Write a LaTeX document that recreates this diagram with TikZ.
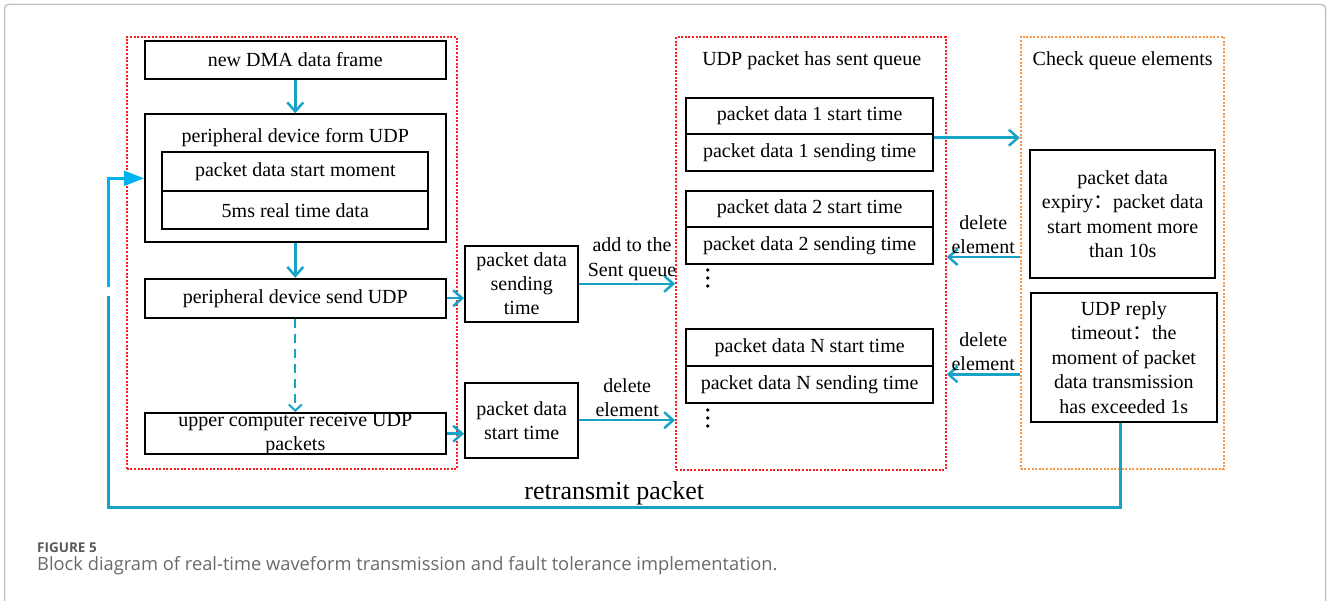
\documentclass[tikz,border=0pt]{standalone}
\usepackage{fontspec}
\setmainfont{Liberation Serif}
\newfontfamily\capfont{Open Sans}
\newfontfamily\cjk{Noto Sans CJK SC}
\usetikzlibrary{arrows.meta,positioning,calc}
\definecolor{flow}{RGB}{23,163,200}
\definecolor{flowlt}{RGB}{0,178,240}
\definecolor{qred}{RGB}{250,30,30}
\definecolor{qorange}{RGB}{247,150,70}
\definecolor{framegray}{RGB}{195,195,195}
\definecolor{capgray}{RGB}{105,105,105}
\newcommand{\fc}{{\cjk ：}}

\begin{document}
\begin{tikzpicture}[x=1pt,y=-1pt,
	txt/.style={inner sep=0pt,align=center,font=\fontsize{20}{24.5}\selectfont},
	box/.style={txt,draw,line width=2pt},
	wbox/.style={box,minimum width=300.7pt,minimum height=38.8pt},
	pbox/.style={box,minimum width=247.3pt,minimum height=36.7pt},
	grp/.style={draw,line width=2pt,dash pattern=on 2pt off 1.6pt,minimum height=432.5pt},
	lbl/.style={txt,above,inner sep=2pt},
	flowarr/.style={draw=flow,line width=2.5pt,-{Straight Barb[length=9pt,width=16pt]}}]
	\useasboundingbox (0,0) rectangle (1328,601);
	\draw[framegray,line width=1.5pt,rounded corners=4pt] (4.5,601) -- (4.5,4.5) -- (1325.5,4.5) -- (1325.5,601);

	% device side
	\node[grp,draw=qred,minimum width=330pt] (devgrp) at (291.7,253) {};
	\node[wbox] (dma) at (295.3,60) {new DMA data frame};
	\node[box,minimum width=300.7pt,minimum height=128pt] (form) at (295.3,178.3) {};
	\node[txt] (formt) at (295.3,138) {peripheral device form UDP};
	\node[box,minimum width=266pt,minimum height=39pt] (startm) at (295.3,171.5) {packet data start moment};
	\node[box,minimum width=266pt,minimum height=38.3pt] (rtd) at (295.3,210.2) {5ms real time data};
	\node[wbox] (send) at (295.3,298.2) {peripheral device send UDP};
	\node[wbox,font=\fontsize{20}{24}\selectfont] (recv) at (295.3,433.7) {upper computer receive UDP\\packets};
	\node[box,minimum width=113.3pt,minimum height=75.7pt,font=\fontsize{20}{24}\selectfont] (sendt) at (521.7,283.8) {packet data\\sending\\time};
	\node[box,minimum width=113.3pt,minimum height=75pt,font=\fontsize{20}{24}\selectfont] (startt) at (521.7,420.2) {packet data\\start time};

	% sent queue
	\node[grp,draw=qred,minimum width=269.7pt] (queue) at (810.9,253.3) {};
	\node[txt] (queuet) at (811.7,60.5) {UDP packet has sent queue};
	\node[pbox] (p1s) at (809.7,116) {packet data 1 start time};
	\node[pbox] (p1t) at (809.7,152.7) {packet data 1 sending time};
	\node[pbox] (p2s) at (809.7,209) {packet data 2 start time};
	\node[pbox] (p2t) at (809.7,245.7) {packet data 2 sending time};
	\node[pbox] (pNs) at (809.7,347.7) {packet data N start time};
	\node[pbox] (pNt) at (809.7,384.3) {packet data N sending time};
	\foreach \y in {270,278,286,410,418,426}
		\fill (707.7,\y) circle (1.9);

	% checking
	\node[grp,draw=qorange,minimum width=203.3pt] (check) at (1122.4,253) {};
	\node[txt] (checkt) at (1122.7,60.5) {Check queue elements};
	\node[box,minimum width=185.3pt,minimum height=128.3pt] (expiry) at (1122.7,214.2) {packet data\\expiry\fc packet data\\start moment more\\than 10s};
	\node[box,minimum width=185.7pt,minimum height=129pt] (timeout) at (1123.8,357.2) {UDP reply\\timeout\fc the\\moment of packet\\data transmission\\has exceeded 1s};

	\draw[flowarr] (dma) -- (form);
	\draw[flowarr] (form) -- (send);
	\draw[flowarr,line width=2pt,dash pattern=on 9pt off 6pt,-{Straight Barb[length=6pt,width=13pt]}] (send) -- (recv);
	\draw[flowarr] (send.east) -- (send.east -| sendt.west);
	\draw[flowarr] (recv.east) -- (recv.east -| startt.west);
	\draw[flowarr] (sendt.east) -- node[lbl,pos=0.55] {add to the\\Sent queue} (sendt.east -| queue.west);
	\draw[flowarr] (startt.east) -- node[lbl,pos=0.5] {delete\\element} (startt.east -| queue.west);
	\draw[flowarr] ($(p1s.south east)+(0,2.4)$) -- ($(p1s.south east -| check.west)+(0,2.4)$);
	\draw[flowarr] ($(expiry.south -| check.west)+(0,-22.3)$) -- node[lbl] {delete\\element} ($(expiry.south -| queue.east)+(0,-22.3)$);
	\draw[flowarr] ($(timeout.west -| check.west)+(0,17.1)$) -- node[lbl] {delete\\element} ($(timeout.west -| queue.east)+(0,17.1)$);

	% retransmit loop
	\coordinate (rt) at (108.3,507.7);
	\coordinate (gapb) at (108.3,296);
	\coordinate (gapt) at (108.3,286.7);
	\draw[flow,line width=2.5pt] ($(timeout.south)+(-3.5,0)$) |- node[pos=0.75,above,inner sep=1pt,text=black,font=\fontsize{26}{30}\selectfont] (rtl) {retransmit packet} (rt) -- (gapb);
	\draw[flowlt,line width=2.5pt,-{Triangle[length=20pt,width=15pt]}] (gapt) -- (gapt |- form.west) -- (form.west);

	% caption
	\node[anchor=base west,inner sep=0pt,text=capgray!85!black,font=\capfont\bfseries\fontsize{13.5}{16}\selectfont] (fig) at (37,552) {FIGURE 5};
	\node[anchor=base west,inner sep=0pt,text=capgray,font=\capfont\fontsize{18.3}{22}\selectfont] (cap) at (37,570) {Block diagram of real-time waveform transmission and fault tolerance implementation.};
\end{tikzpicture}
\end{document}
